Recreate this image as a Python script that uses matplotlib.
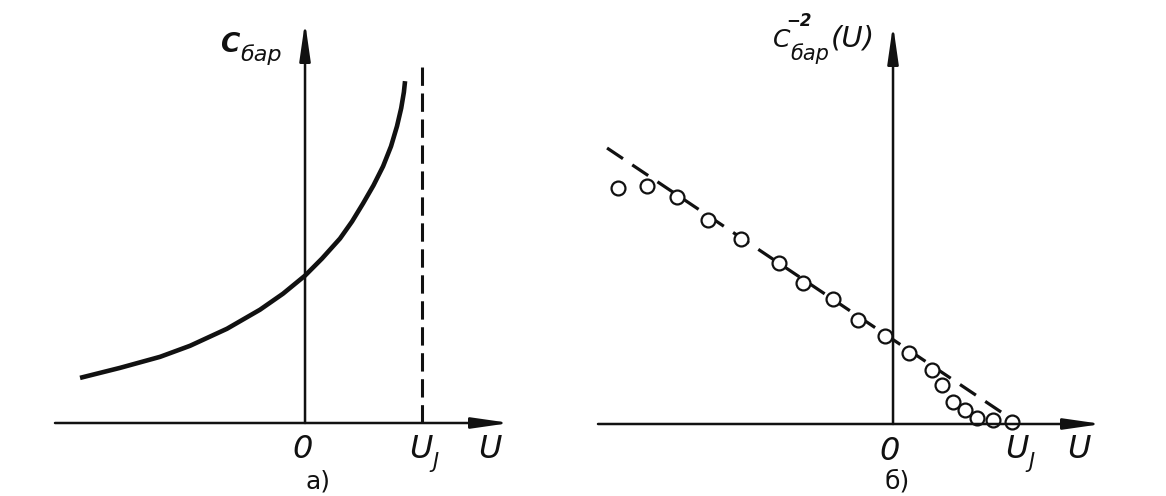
import numpy as np
import matplotlib.pyplot as plt

W, H = 1166, 496

# panel a: barrier capacitance vs voltage (U in units of U_J)
curve_u = [-1.923, -1.581, -1.239, -0.983, -0.667, -0.385, -0.188, 0.0, 0.145, 0.299,
           0.402, 0.496, 0.585, 0.667, 0.735, 0.786, 0.822, 0.845, 0.855]
curve_c = [0.45, 0.55, 0.66, 0.77, 0.94, 1.13, 1.29, 1.47, 1.64, 1.84,
           2.01, 2.19, 2.37, 2.56, 2.76, 2.96, 3.14, 3.30, 3.41]
uj_a = 1.0
uj_a_top = 3.55

# panel b: C^-2 vs voltage, measured points and straight fit
pts_u = [-2.311, -2.067, -1.815, -1.555, -1.277, -0.958, -0.756, -0.504, -0.294,
         -0.067, 0.134, 0.328, 0.412, 0.504, 0.605, 0.706, 0.840, 1.0]
pts_v = [2.36, 2.38, 2.27, 2.04, 1.85, 1.61, 1.41, 1.25, 1.04,
         0.88, 0.71, 0.54, 0.39, 0.22, 0.14, 0.06, 0.04, 0.02]
fit_u = [-2.403, 0.983]
fit_v = [2.76, 0.06]

ink = '#111111'
fam = ['Liberation Sans Narrow', 'DejaVu Sans']

fig = plt.figure(figsize=(W / 100, H / 100), dpi=100)
fig.patch.set_facecolor('white')


def px(x, y):
    return x / W, 1 - y / H


def make_axes(x0, x1, y_axis, y_top, u_left, u_right, top_val):
    ax = fig.add_axes([x0 / W, 1 - y_axis / H, (x1 - x0) / W, (y_axis - y_top) / H])
    ax.set_xlim(u_left, u_right)
    ax.set_ylim(0, top_val)
    ax.axis('off')
    arr = dict(arrowstyle='-|>,head_length=2.3,head_width=0.33', color=ink,
               lw=1.8, mutation_scale=10, shrinkA=0, shrinkB=0)
    ax.annotate('', xy=(u_right, 0), xytext=(u_left, 0), arrowprops=arr,
                annotation_clip=False)
    ax.annotate('', xy=(0, top_val), xytext=(0, 0), arrowprops=arr,
                annotation_clip=False)
    return ax


# ---- panel a
ax1 = make_axes(55, 510, 423, 22, -2.137, 1.752, 4.0)
ax1.plot(curve_u, curve_c, color=ink, lw=3.3, solid_capstyle='butt',
         solid_joinstyle='round', clip_on=False)
ax1.plot([uj_a, uj_a], [0, uj_a_top], color=ink, lw=2.2, dashes=(6, 2.5), clip_on=False)

tk = dict(family=fam, style='italic', color=ink, ha='center', va='center')
fig.text(*px(303, 450), '0', fontsize=23, **tk)
fig.text(*px(421, 450), 'U', fontsize=23, **tk)
fig.text(*px(435, 462), 'J', fontsize=15, **tk)
fig.text(*px(490, 450), 'U', fontsize=23, **tk)
fig.text(*px(230, 45), 'C', fontsize=19, weight='bold', **tk)
fig.text(*px(261, 55), 'бар', fontsize=16, **tk)
fig.text(*px(318, 482), 'а)', fontsize=18, family=fam, color=ink, ha='center', va='center')

# ---- panel b
ax2 = make_axes(598, 1102, 424, 25, -2.479, 1.756, 3.99)
ax2.plot(fit_u, fit_v, color=ink, lw=2.3, dashes=(6, 3.5), clip_on=False)
ax2.plot(pts_u, pts_v, 'o', ms=10, mfc='white', mec=ink, mew=1.6, clip_on=False)

fig.text(*px(890, 451), '0', fontsize=23, **tk)
fig.text(*px(1017, 450), 'U', fontsize=23, **tk)
fig.text(*px(1031, 462), 'J', fontsize=15, **tk)
fig.text(*px(1079, 450), 'U', fontsize=23, **tk)
fig.text(*px(782, 40), 'C', fontsize=18, **tk)
fig.text(*px(799, 21), '−2', fontsize=12, weight='bold', **tk)
fig.text(*px(810, 54), 'бар', fontsize=15, **tk)
fig.text(*px(853, 39), '(U)', fontsize=21, **tk)
fig.text(*px(897, 481), 'б)', fontsize=18, family=fam, color=ink, ha='center', va='center')

fig.savefig('out.png', dpi=100)
